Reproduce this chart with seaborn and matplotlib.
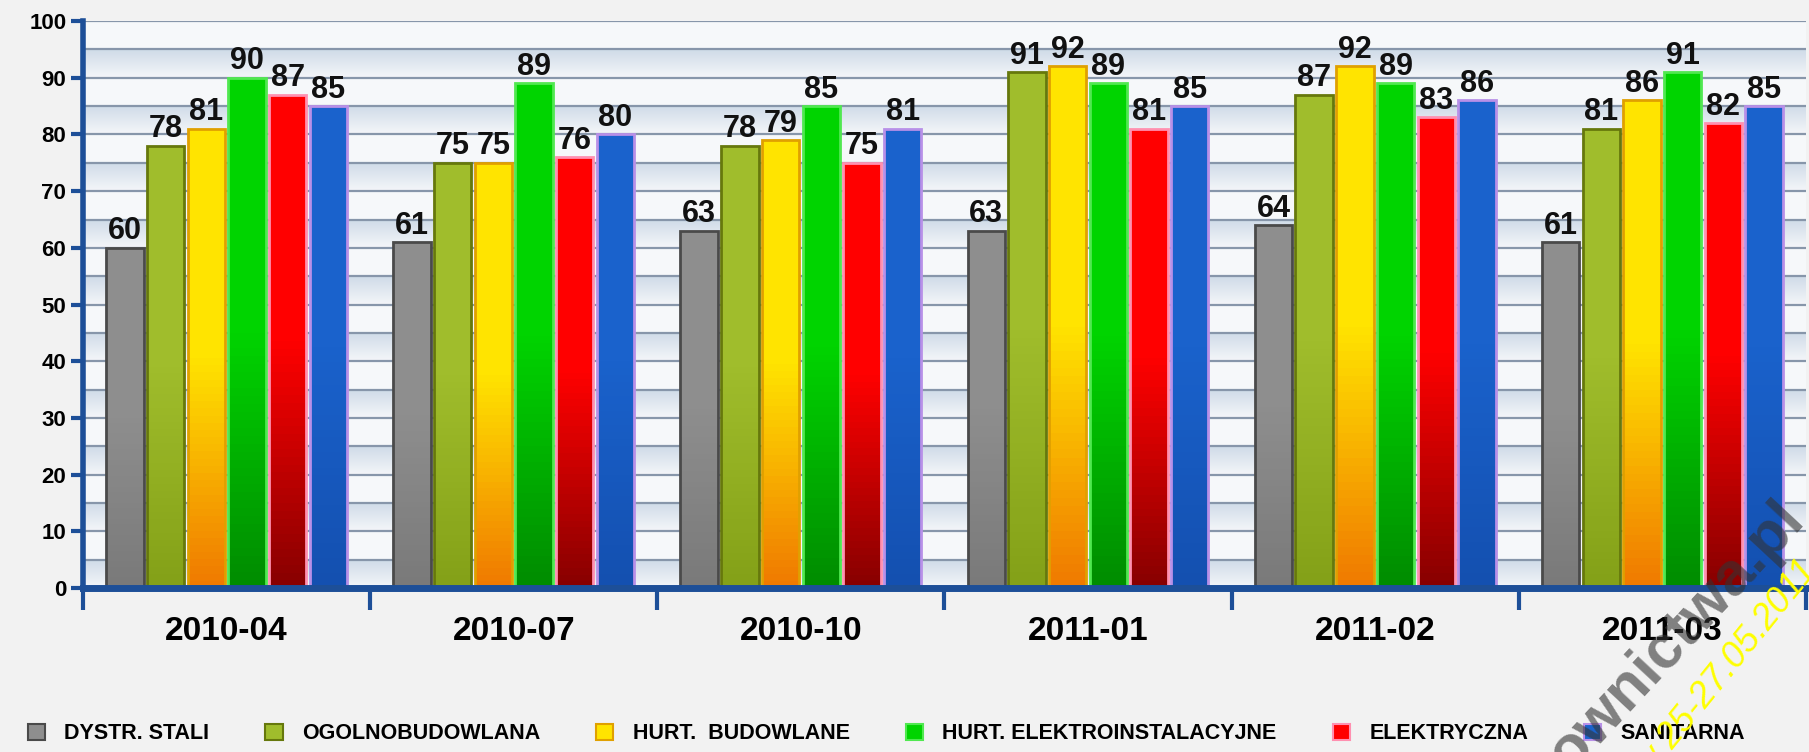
import numpy as np
import matplotlib
matplotlib.use("Agg")
import matplotlib.pyplot as plt
import pandas as pd
import seaborn as sns
from matplotlib.colors import LinearSegmentedColormap
from matplotlib.patches import Patch
from matplotlib.ticker import MultipleLocator

# Datos
okresy = ["2010-04", "2010-07", "2010-10", "2011-01", "2011-02", "2011-03"]
branze = ["DYSTR. STALI", "OGOLNOBUDOWLANA", "HURT.  BUDOWLANE",
          "HURT. ELEKTROINSTALACYJNE", "ELEKTRYCZNA", "SANITARNA"]
dystr_stali = [60, 61, 63, 63, 64, 61]
ogolnobudowlana = [78, 75, 78, 91, 87, 81]
hurt_budowlane = [81, 75, 79, 92, 92, 86]
hurt_elektro = [90, 89, 85, 89, 89, 91]
elektryczna = [87, 76, 75, 81, 83, 82]
sanitarna = [85, 80, 81, 85, 86, 85]

series = [dystr_stali, ogolnobudowlana, hurt_budowlane, hurt_elektro, elektryczna, sanitarna]
df = pd.DataFrame({
    "okres": okresy * len(branze),
    "branza": [b for b in branze for _ in okresy],
    "wartosc": [v for s in series for v in s],
})

# Estilo de cada serie: (arriba, abajo, borde)
estilos = [
    ("#8e8e8e", "#7a7a7a", "#4a4a4a"),
    ("#a0bd2c", "#84a118", "#66780c"),
    ("#ffe400", "#f07a00", "#e0a000"),
    ("#00d400", "#008c00", "#50e850"),
    ("#ff0000", "#880000", "#ff90b0"),
    ("#1a62cc", "#1450b0", "#b890e8"),
]
paleta = [e[0] for e in estilos]

plt.rcParams["font.family"] = ["Liberation Sans", "DejaVu Sans"]
fig = plt.figure(figsize=(18.09, 7.52), dpi=100, facecolor="#f2f2f2")
ax = fig.add_axes([0.0459, 0.218, 0.9524, 0.754])
ax.set_facecolor("#f6f8fa")

sns.barplot(data=df, x="okres", y="wartosc", hue="branza", hue_order=branze,
            order=okresy, palette=paleta, width=0.85, gap=0.08, ax=ax, legend=False)

# Fondo con bandas
fondo = LinearSegmentedColormap.from_list("fondo", ["#f4f6f9", "#cfdbe8"])
grad = np.linspace(0, 1, 64).reshape(-1, 1)
for k in range(10):
    ax.imshow(grad, extent=[-0.5, 5.5, 10 * k, 10 * k + 5], origin="lower",
              cmap=fondo, aspect="auto", zorder=0)

# Degradado en las barras
for cont, (arriba, abajo, borde) in zip(ax.containers, estilos):
    cmap = LinearSegmentedColormap.from_list("", [abajo, arriba, arriba])
    for bar in cont:
        x, w, h = bar.get_x(), bar.get_width(), bar.get_height()
        im = ax.imshow(grad, extent=[x, x + w, 0, h], origin="lower", cmap=cmap,
                       aspect="auto", zorder=2)
        im.set_clip_path(bar)
        bar.set_facecolor("none")
        bar.set_edgecolor(borde)
        bar.set_linewidth(2)
        bar.set_zorder(3)
    ax.bar_label(cont, fontsize=22, fontweight="bold", padding=1, color="#111111")

ax.set_xlim(-0.5, 5.5)
ax.set_ylim(0, 100)

# Cuadricula
ax.yaxis.set_major_locator(MultipleLocator(10))
ax.yaxis.set_minor_locator(MultipleLocator(5))
ax.grid(which="both", axis="y", color="#8796aa", linewidth=1.6, zorder=1)
ax.set_axisbelow(True)

# Ejes
azul = "#1d4f98"
for lado in ["top", "right"]:
    ax.spines[lado].set_visible(False)
ax.spines["left"].set_color(azul)
ax.spines["left"].set_linewidth(4)
ax.spines["bottom"].set_color(azul)
ax.spines["bottom"].set_linewidth(5)
ax.spines["bottom"].set_zorder(4)

ax.tick_params(axis="y", which="major", length=9, width=3, color=azul, pad=3,
               labelsize=16)
ax.tick_params(axis="y", which="minor", length=0)
ax.set_xticks(np.arange(-0.5, 6, 1), minor=True)
ax.tick_params(axis="x", which="major", length=0, pad=20, labelsize=24)
ax.tick_params(axis="x", which="minor", length=16, width=3, color=azul)
for t in ax.get_xticklabels() + ax.get_yticklabels():
    t.set_fontweight("bold")
ax.set_xlabel("")
ax.set_ylabel("")

# Leyenda
handles = [Patch(facecolor=e[0], edgecolor=e[2], linewidth=1.5) for e in estilos]
fig.legend(handles, branze, loc="center", bbox_to_anchor=(0.49, 0.024), ncol=6,
           frameon=False, prop={"size": 15.5, "weight": "bold"}, handlelength=0.8,
           handleheight=0.8, handletextpad=0.9, columnspacing=2.6)

# Marca de agua (cortada en el borde, como en el original)
fig.text(0.868, -0.03, "ownictwa.pl", rotation=47, ha="left", va="baseline",
         rotation_mode="anchor", fontsize=44, fontweight="bold", color="#333333",
         alpha=0.6, zorder=10)
fig.text(0.912, -0.035, "w 25-27.05.2011", rotation=51, ha="left", va="baseline",
         rotation_mode="anchor", fontsize=26, style="italic", color="#ffff00",
         zorder=11)

fig.savefig("out.png", dpi=100, facecolor=fig.get_facecolor())
